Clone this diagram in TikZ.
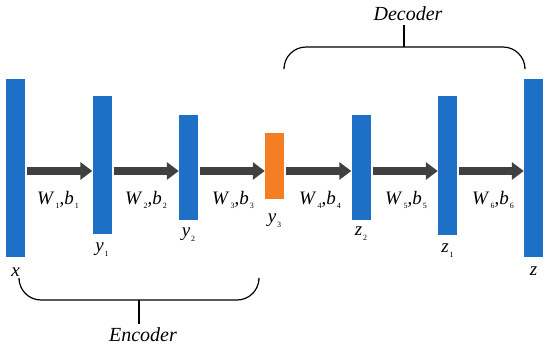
\documentclass[tikz,border=0pt]{standalone}
\usepackage{fontspec}
\setmainfont{Liberation Serif}
\usetikzlibrary{positioning, arrows.meta}

\definecolor{barblue}{RGB}{30,112,198}
\definecolor{barorange}{RGB}{245,125,35}
\definecolor{flowgray}{RGB}{64,64,64}

\newcommand{\sbs}[1]{\raisebox{-0.55ex}{\fontsize{8}{8}\selectfont\upshape #1}}
\newcommand{\vsub}[2]{\textit{#1}\kern1pt\sbs{#2}}

\tikzset{
  layer/.style={rectangle, fill=barblue, minimum width=19pt, minimum height=#1, inner sep=0pt},
  codelayer/.style={layer=#1, fill=barorange},
  flow/.style={draw=flowgray, line width=8pt, -{Triangle[length=12pt, width=17pt]}, shorten <=2pt},
  brace/.style={draw=black, line width=1.2pt, rounded corners=22pt},
  lbl/.style={font=\fontsize{19}{23}\selectfont},
  part/.style={font=\fontsize{20}{24}\selectfont\itshape}
}

\begin{document}
\begin{tikzpicture}[x=1pt, y=-1pt]
\useasboundingbox[fill=white] (0,0) rectangle (550,349);

% layers
\node[layer=178pt] (bx) at (15.5,168) {};
\node[layer=138pt] (by1) at (102,165) {};
\node[layer=105pt] (by2) at (188.5,167.5) {};
\node[codelayer=66pt] (by3) at (274.5,166) {};
\node[layer=105pt] (bz2) at (361,167.5) {};
\node[layer=139pt] (bz1) at (447.5,165.5) {};
\node[layer=178pt] (bz) at (533.5,168) {};

% arrows
\coordinate (lane) at (0,171);
\draw[flow] (bx.east |- lane) -- (by1.west |- lane);
\draw[flow] (by1.east |- lane) -- (by2.west |- lane);
\draw[flow] (by2.east |- lane) -- (by3.west |- lane);
\draw[flow] (by3.east |- lane) -- (bz2.west |- lane);
\draw[flow] (bz2.east |- lane) -- (bz1.west |- lane);
\draw[flow] (bz1.east |- lane) -- (bz.west |- lane);

% weights
\node[lbl] (w1) at (58,200) {\vsub{W}{1},\vsub{b}{1}};
\node[lbl] (w2) at (146,200) {\vsub{W}{2},\vsub{b}{2}};
\node[lbl] (w3) at (233,200) {\vsub{W}{3},\vsub{b}{3}};
\node[lbl] (w4) at (320,200) {\vsub{W}{4},\vsub{b}{4}};
\node[lbl] (w5) at (406,200) {\vsub{W}{5},\vsub{b}{5}};
\node[lbl] (w6) at (493,200) {\vsub{W}{6},\vsub{b}{6}};

% layer names
\node[lbl, below=7pt of bx] (lx) {\textit{x}};
\node[lbl, below=5pt of by1] (ly1) {\vsub{y}{1}};
\node[lbl, below=4pt of by2] (ly2) {\vsub{y}{2}};
\node[lbl, below=11pt of by3] (ly3) {\vsub{y}{3}};
\node[lbl, below=3pt of bz2] (lz2) {\vsub{z}{2}};
\node[lbl, below=5pt of bz1] (lz1) {\vsub{z}{1}};
\node[lbl, below=6pt of bz] (lz) {\textit{z}};

% braces
\node[part] (decoder) at (408,14) {Decoder};
\draw[brace] (284,67) -- (284,47) -- (525,47) -- (525,67);
\coordinate (dectick) at (404,47);
\draw[brace] (dectick) -- (dectick |- decoder.south);

\node[part] (encoder) at (143,335) {Encoder};
\draw[brace] (19,280) -- (19,300) -- (259,300) -- (259,280);
\coordinate (enctick) at (139,300);
\draw[brace] (enctick) -- (enctick |- encoder.north);
\end{tikzpicture}
\end{document}
